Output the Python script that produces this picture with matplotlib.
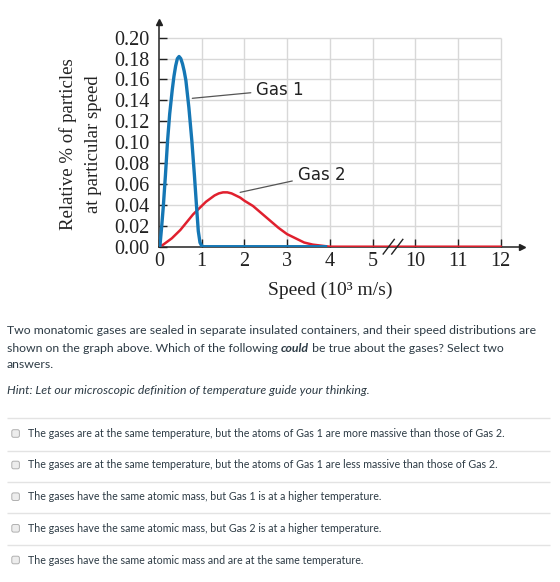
import matplotlib
matplotlib.use("Agg")
import matplotlib.pyplot as plt
from matplotlib.patches import FancyBboxPatch

# ---------------- data ----------------
gas1_speed = [0, 0.02, 0.06, 0.10, 0.15, 0.20, 0.25, 0.31, 0.35, 0.39, 0.43, 0.47, 0.51, 0.55, 0.59,
              0.63, 0.70, 0.77, 0.83, 0.88, 0.92, 0.96, 1.00, 1.04, 3.9]
gas1_value = [0, 0.0, 0.018, 0.038, 0.068, 0.101, 0.127, 0.150, 0.163, 0.173, 0.180, 0.182, 0.180, 0.175, 0.168,
              0.159, 0.133, 0.101, 0.068, 0.038, 0.015, 0.004, 0.0008, 0.0, 0.0]

gas2_speed = [0, 0.1, 0.2, 0.3, 0.4, 0.5, 0.6, 0.7, 0.8, 0.9, 1.0, 1.1, 1.2, 1.3, 1.4, 1.5, 1.6, 1.7, 1.8, 1.9,
              2.0, 2.2, 2.4, 2.6, 2.8, 3.0, 3.2, 3.4, 3.6, 3.8, 4.0, 5.0, 10, 12]
gas2_value = [0, 0.002, 0.005, 0.008, 0.012, 0.016, 0.021, 0.026, 0.031, 0.035, 0.039, 0.043, 0.046, 0.049,
              0.051, 0.052, 0.052, 0.051, 0.049, 0.047, 0.044, 0.039, 0.032, 0.025, 0.018, 0.012, 0.008,
              0.004, 0.002, 0.001, 0.0, 0.0, 0.0, 0.0]

x_ticks = [0, 1, 2, 3, 4, 5, 10, 11, 12]
y_ticks = [0.00, 0.02, 0.04, 0.06, 0.08, 0.10, 0.12, 0.14, 0.16, 0.18, 0.20]

paragraph = [
    "Two monatomic gases are sealed in separate insulated containers, and their speed distributions are",
    ("shown on the graph above. Which of the following ", "could", " be true about the gases? Select two"),
    "answers.",
]
hint = "Hint: Let our microscopic definition of temperature guide your thinking."
options = [
    "The gases are at the same temperature, but the atoms of Gas 1 are more massive than those of Gas 2.",
    "The gases are at the same temperature, but the atoms of Gas 1 are less massive than those of Gas 2.",
    "The gases have the same atomic mass, but Gas 1 is at a higher temperature.",
    "The gases have the same atomic mass, but Gas 2 is at a higher temperature.",
    "The gases have the same atomic mass and are at the same temperature.",
]


def pos(v):
    """Broken axis: 0..5 linear, 10..12 placed right after 5."""
    return v if v <= 5 else v - 4


W, H = 560, 582
fig = plt.figure(figsize=(W / 100, H / 100), dpi=100)

# ---------------- chart ----------------
x0_px, y0_px = 159, 246.7
ux = 42.7      # px per unit on x
uy = 1045      # px per unit on y
xmax, ymax = 8.5, 0.215
ax = fig.add_axes([x0_px / W, (H - y0_px) / H, xmax * ux / W, ymax * uy / H])
ax.set_xlim(0, xmax)
ax.set_ylim(0, ymax)
for s in ["top", "right"]:
    ax.spines[s].set_visible(False)
for s in ["left", "bottom"]:
    ax.spines[s].set_color("#222222")
    ax.spines[s].set_linewidth(1.1)
ax.plot(1, 0, ">", color="#222222", ms=5, transform=ax.get_yaxis_transform(), clip_on=False)
ax.plot(0, 1, "^", color="#222222", ms=5, transform=ax.get_xaxis_transform(), clip_on=False)

grid_c = "#d8d8d8"
xpos = [pos(v) for v in x_ticks]
ax.hlines(y_ticks[1:], 0, xpos[-1], color=grid_c, lw=1.0, zorder=0)
ax.vlines(xpos[1:], 0, y_ticks[-1], color=grid_c, lw=1.0, zorder=0)

serif = "Liberation Serif"
tick_c = "#222222"
ax.set_xticks(xpos)
ax.set_xticklabels([str(v) for v in x_ticks], family=serif, fontsize=14.5, color=tick_c)
ax.set_yticks(y_ticks)
ax.set_yticklabels([f"{v:.2f}" for v in y_ticks], family=serif, fontsize=14.5, color=tick_c)
ax.tick_params(axis="x", direction="in", length=6, width=1, pad=4, color="#222222")
ax.tick_params(axis="y", direction="in", length=6, width=1, pad=7, color="#222222")

ax.plot([pos(v) for v in gas2_speed], gas2_value, color="#e0202e", lw=1.8, zorder=3,
        solid_joinstyle="round")
ax.plot([pos(v) for v in gas1_speed], gas1_value, color="#1577b5", lw=2.4, zorder=4,
        solid_joinstyle="round")

# axis break marks
bx = 5.48
for dx in (-0.1, 0.1):
    ax.plot([bx + dx - 0.13, bx + dx + 0.13], [-0.007, 0.007], color="#222222", lw=1.0,
            clip_on=False, zorder=5)

# annotations
ax.annotate("Gas 1", xy=(0.78, 0.142), xytext=(2.28, 0.150), fontsize=12, family="DejaVu Sans",
            va="center", ha="left", color="#222222",
            arrowprops=dict(arrowstyle="-", color="#555555", lw=0.9, shrinkA=2, shrinkB=0))
ax.annotate("Gas 2", xy=(1.9, 0.052), xytext=(3.25, 0.069), fontsize=12, family="DejaVu Sans",
            va="center", ha="left", color="#222222",
            arrowprops=dict(arrowstyle="-", color="#555555", lw=0.9, shrinkA=2, shrinkB=0))

# axis labels
fig.text(330 / W, 1 - 290 / H, "Speed (10³ m/s)", family=serif, fontsize=14,
         ha="center", va="center", color="#222222")
fig.text(68 / W, 1 - 144 / H, "Relative % of particles", rotation=90, family=serif, fontsize=13.5,
         ha="center", va="center", color="#222222")
fig.text(93 / W, 1 - 144 / H, "at particular speed", rotation=90, family=serif, fontsize=13.5,
         ha="center", va="center", color="#222222")

# ---------------- text overlay (pixel coordinates) ----------------
tax = fig.add_axes([0, 0, 1, 1], zorder=-1)
tax.set_xlim(0, W)
tax.set_ylim(H, 0)
tax.axis("off")

txt_c = "#2d3b45"
fam = "Lato"
fs_p = 8.85
ys = [330, 348, 365]
for y, line in zip(ys, paragraph):
    if isinstance(line, tuple):
        t1 = tax.text(7, y, line[0], family=fam, fontsize=fs_p, color=txt_c, va="center", ha="left")
        t2 = tax.annotate(line[1], xy=(1, 0.5), xycoords=t1, va="center", ha="left", family=fam,
                          fontsize=fs_p, color=txt_c, fontweight="bold", fontstyle="italic")
        tax.annotate(line[2], xy=(1, 0.5), xycoords=t2, va="center", ha="left", family=fam,
                     fontsize=fs_p, color=txt_c)
    else:
        tax.text(7, y, line, family=fam, fontsize=fs_p, color=txt_c, va="center", ha="left")
tax.text(7, 390, hint, family=fam, fontsize=fs_p, color=txt_c, va="center", ha="left", fontstyle="italic")

sep_y = [418.3, 450.7, 482.3, 513.3, 545]
opt_y = [433.5, 465, 496.7, 528.3, 560]
tax.hlines(sep_y, 7, 550, color="#e3e3e3", lw=1.0)
for y, s in zip(opt_y, options):
    tax.add_patch(FancyBboxPatch((11.8, y - 3.8), 7.6, 7.6, boxstyle="round,pad=0,rounding_size=1.8",
                                 fc="#ededed", ec="#b0b0b0", lw=0.7))
    tax.text(28.3, y, s, family=fam, fontsize=7.7, color=txt_c, va="center", ha="left")

fig.savefig("out.png", dpi=100, facecolor="white")
